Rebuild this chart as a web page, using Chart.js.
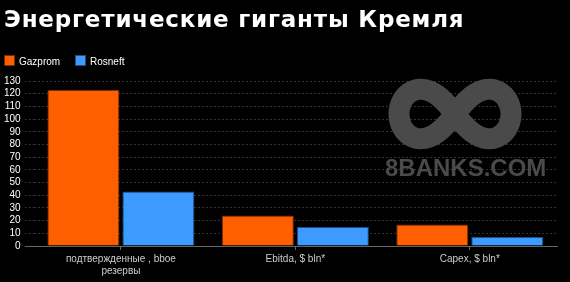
<!DOCTYPE html>
<html>
<head>
<meta charset="utf-8">
<script src="https://cdn.jsdelivr.net/npm/chart.js@4"></script>
<style>
    html, body { margin: 0; padding: 0; background: #000; }
    #wrap { position: relative; width: 570px; height: 282px; }
    #title {
        position: absolute; left: 4px; top: 6px;
        color: #fff; font: bold 23px "DejaVu Sans", sans-serif; letter-spacing: 0.8px;
        white-space: nowrap;
    }
    #legend {
        position: absolute; left: 4px; top: 55px;
        color: #fff; font: 10px "Liberation Sans", Arial, sans-serif;
    }
    .item { position: absolute; top: 0; white-space: nowrap; }
    .box { display: inline-block; width: 9px; height: 9px; vertical-align: -1px; margin-right: 4px; }
</style>
</head>
<body>
<div id="wrap">
    <canvas id="myChart" width="570" height="282"></canvas>
    <div id="title">Энергетические гиганты Кремля</div>
    <div id="legend"></div>
</div>
<script>
// Datos
const categories = [['подтвержденные , bboe', 'резервы'], 'Ebitda, $ bln*', 'Capex, $ bln*'];
const seriesNames = ['Gazprom', 'Rosneft'];
const gazprom = [123, 24, 17];
const rosneft = [43, 15, 7];
const yTicks = [0, 130, 10]; // min, max, paso

const colors = ['#ff5f00', '#3d9bff'];
const borders = ['#7a2e00', '#1d4c80'];
const fontFamily = '"Liberation Sans", Arial, sans-serif';

// Leyenda en HTML
const legendEl = document.getElementById('legend');
seriesNames.forEach((name, i) => {
    const item = document.createElement('div');
    item.className = 'item';
    item.style.left = (i * 71) + 'px';
    item.innerHTML = '<span class="box" style="background:' + colors[i] + ';border:0.5px solid ' + borders[i] + '"></span>' + name;
    legendEl.appendChild(item);
});

// Marca de agua (logo + texto)
const watermark = {
    id: 'watermark',
    beforeDatasetsDraw(chart) {
        const ctx = chart.ctx;
        ctx.save();
        // símbolo de infinito
        const cx = 455, cy = 114, a = 56;
        ctx.strokeStyle = '#4a4a4a';
        ctx.lineWidth = 21;
        ctx.beginPath();
        for (let i = 0; i <= 200; i++) {
            const t = i / 200 * Math.PI * 2;
            const d = 1 + Math.sin(t) * Math.sin(t);
            const x = cx + a * Math.cos(t) / d;
            const y = cy + a * 1.25 * Math.sin(t) * Math.cos(t) / d;
            if (i === 0) ctx.moveTo(x, y); else ctx.lineTo(x, y);
        }
        ctx.closePath();
        ctx.stroke();
        ctx.fillStyle = '#4a4a4a';
        ctx.font = 'bold 24px ' + fontFamily;
        ctx.textBaseline = 'alphabetic';
        ctx.fillText('8BANKS.COM', 385, 176);
        ctx.restore();
    }
};

const ctx = document.getElementById('myChart').getContext('2d');
const myChart = new Chart(ctx, {
    type: 'bar',
    data: {
        labels: categories,
        datasets: [
            {
                label: seriesNames[0],
                data: gazprom,
                backgroundColor: colors[0],
                borderColor: borders[0],
                borderWidth: 1,
                categoryPercentage: 0.86,
                barPercentage: 0.96
            },
            {
                label: seriesNames[1],
                data: rosneft,
                backgroundColor: colors[1],
                borderColor: borders[1],
                borderWidth: 1,
                categoryPercentage: 0.86,
                barPercentage: 0.96
            }
        ]
    },
    options: {
        responsive: false,
        animation: false,
        layout: { padding: { left: 0, right: 13, top: 81, bottom: 2 } },
        plugins: {
            legend: { display: false },
            tooltip: { enabled: false }
        },
        scales: {
            x: {
                grid: {
                    display: true,
                    drawOnChartArea: false,
                    offset: false,
                    color: '#666',
                    tickLength: 4
                },
                border: { color: '#666' },
                ticks: {
                    color: '#cccccc',
                    font: { family: fontFamily, size: 10 },
                    maxRotation: 0
                }
            },
            y: {
                min: yTicks[0],
                max: yTicks[1],
                ticks: {
                    stepSize: yTicks[2],
                    autoSkip: false,
                    color: '#ffffff',
                    padding: 4,
                    font: { family: fontFamily, size: 10 }
                },
                grid: {
                    color: c => c.tick && c.tick.value === 0 ? '#666' : '#333',
                    tickColor: c => c.tick && c.tick.value === 0 ? '#666' : '#333',
                    tickBorderDash: c => c.tick && c.tick.value === 0 ? [] : [2, 2],
                    tickLength: 9
                },
                border: { display: false, dash: [2, 2] }
            }
        }
    },
    plugins: [watermark]
});
</script>
</body>
</html>
